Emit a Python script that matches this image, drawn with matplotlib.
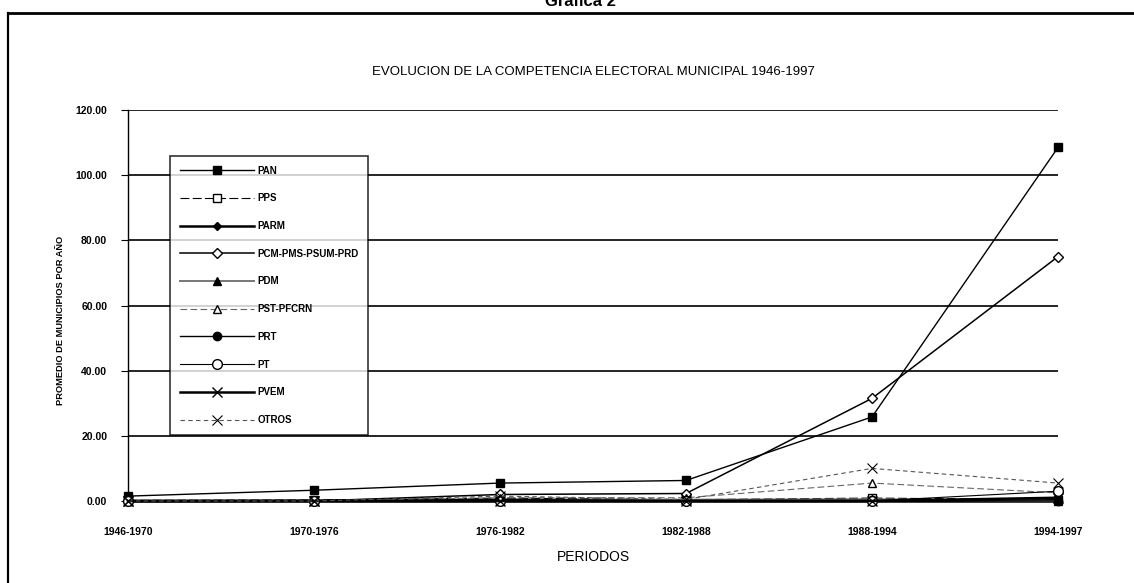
import matplotlib
matplotlib.use("Agg")
import matplotlib.pyplot as plt
from matplotlib.lines import Line2D

plt.rcParams['font.family'] = ['Liberation Sans', 'DejaVu Sans']

periods = ["1946-1970", "1970-1976", "1976-1982", "1982-1988", "1988-1994", "1994-1997"]
yticks = [0, 20, 40, 60, 80, 100, 120]

pan = [1.5, 3.3, 5.5, 6.3, 25.8, 108.5]
pps = [0.2, 0.3, 0.9, 0.4, 0.9, 0.4]
parm = [0.0, 0.1, 0.4, 0.2, 0.3, 0.2]
prd = [0.0, 0.0, 2.0, 2.3, 31.5, 75.0]
pdm = [0.0, 0.0, 0.0, 0.4, 0.5, 0.0]
pst = [0.0, 0.0, 1.0, 1.0, 5.5, 2.5]
prt = [0.0, 0.0, 0.3, 0.2, 0.2, 0.0]
pt = [0.0, 0.0, 0.0, 0.0, 0.0, 3.0]
pvem = [0.0, 0.0, 0.0, 0.0, 0.0, 1.0]
otros = [0.0, 0.0, 1.5, 0.5, 10.0, 5.5]

series = [
    ("PAN", pan, dict(color='black', lw=1.0, ls='-', marker='s', ms=6, mfc='black', mec='black')),
    ("PPS", pps, dict(color='black', lw=0.8, ls=(0, (8, 3)), marker='s', ms=6, mfc='white', mec='black')),
    ("PARM", parm, dict(color='black', lw=1.8, ls='-', marker='D', ms=4, mfc='black', mec='black')),
    ("PCM-PMS-PSUM-PRD", prd, dict(color='black', lw=1.1, ls='-', marker='D', ms=5, mfc='white', mec='black')),
    ("PDM", pdm, dict(color='#777777', lw=1.4, ls='-', marker='^', ms=6, mfc='black', mec='black')),
    ("PST-PFCRN", pst, dict(color='#666666', lw=0.8, ls=(0, (6, 3)), marker='^', ms=6, mfc='white', mec='black')),
    ("PRT", prt, dict(color='black', lw=1.0, ls='-', marker='o', ms=6, mfc='black', mec='black')),
    ("PT", pt, dict(color='black', lw=0.8, ls='-', marker='o', ms=7, mfc='white', mec='black')),
    ("PVEM", pvem, dict(color='black', lw=1.8, ls='-', marker='x', ms=7, mec='black', mew=1.0)),
    ("OTROS", otros, dict(color='#555555', lw=0.8, ls=(0, (4, 3)), marker='x', ms=7, mec='black', mew=0.8)),
]

W, H = 1134, 583
fig = plt.figure(figsize=(W / 100, H / 100), dpi=100)
fig.patch.set_facecolor('white')

# outer frame (scanned page border)
fig.add_artist(Line2D([8 / W, 8 / W], [0, 1 - 13 / H], color='black', lw=1.6))
fig.add_artist(Line2D([8 / W, 1], [1 - 13 / H, 1 - 13 / H], color='black', lw=2.0))
fig.text(580 / W, 1 - 1 / H, "Gráfica 2", ha='center', va='center', fontsize=12, fontweight='bold')

ax = fig.add_axes([128 / W, 1 - 501 / H, (1058 - 128) / W, (501 - 110) / H])
x = list(range(len(periods)))

for name, vals, st in series:
    ax.plot(x, vals, label=name, clip_on=False, zorder=3, **st)

ax.set_xlim(0, len(periods) - 1)
ax.set_ylim(0, 120)
ax.set_yticks(yticks)
ax.set_yticklabels([f"{v:.2f}" for v in yticks], fontsize=7.5, fontweight='bold')
ax.set_xticks(x)
ax.set_xticklabels(periods, fontsize=7.5, fontweight='bold')
ax.tick_params(axis='y', length=5, width=0.8, pad=10)
ax.tick_params(axis='x', length=0, pad=19)
for v in yticks[1:]:
    ax.axhline(v, color='black', lw=1.2, zorder=1)
for s in ['top', 'right']:
    ax.spines[s].set_visible(False)
ax.spines['left'].set_linewidth(1.0)
ax.spines['bottom'].set_linewidth(1.8)

ax.set_ylabel("PROMEDIO DE MUNICIPIOS POR AÑO", fontsize=6.7, fontweight='bold', labelpad=12)
ax.yaxis.set_label_coords(-0.068, (501 - 320) / (501 - 110))
ax.set_xlabel("PERIODOS", fontsize=10, labelpad=9)
fig.text(593 / W, 1 - 72 / H, "EVOLUCION DE LA COMPETENCIA ELECTORAL MUNICIPAL 1946-1997",
         ha='center', va='center', fontsize=9.5)

leg = ax.legend(loc='upper left', bbox_to_anchor=((170 - 128) / (1058 - 128), (501 - 156) / (501 - 110)),
                prop={'weight': 'bold', 'size': 7}, frameon=True, fancybox=False,
                edgecolor='black', handlelength=7.6, labelspacing=1.82, borderpad=1.0,
                handletextpad=0.4, borderaxespad=0)
leg.get_frame().set_linewidth(1.2)
leg.set_zorder(5)

fig.savefig("out.png", dpi=100)
